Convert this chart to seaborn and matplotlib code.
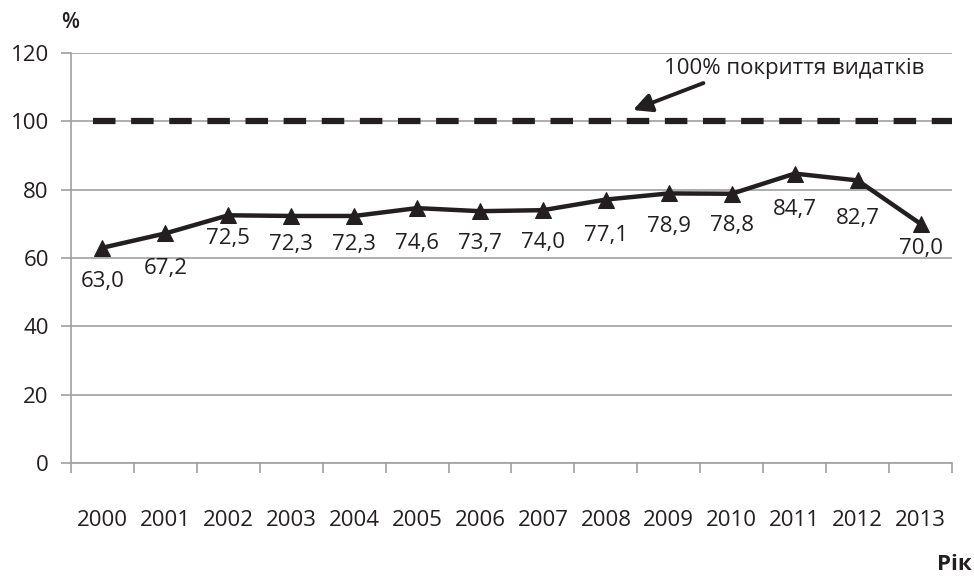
import matplotlib
matplotlib.use('Agg')
import matplotlib.pyplot as plt
import seaborn as sns
import numpy as np

years = ['2000', '2001', '2002', '2003', '2004', '2005', '2006',
         '2007', '2008', '2009', '2010', '2011', '2012', '2013']
coverage = [63.0, 67.2, 72.5, 72.3, 72.3, 74.6, 73.7,
            74.0, 77.1, 78.9, 78.8, 84.7, 82.7, 70.0]
full_coverage = 100
yticks = [0, 20, 40, 60, 80, 100, 120]

# how far below each point its label sits (points)
label_drop = [17, 18, 9, 13, 13, 18, 16, 16, 18, 16, 15, 18, 20, 10]

sns.set_style('white')
plt.rcParams['font.family'] = ['Open Sans', 'DejaVu Sans']
txt = '#231f20'
grid = '#a0a0a0'

fig = plt.figure(figsize=(9.74, 5.76), dpi=100)
ax = fig.add_axes([0.0729, 0.1962, 0.9045, 0.7118])

x = np.arange(len(years))
ax.axhline(full_coverage, xmin=0.025, xmax=1.0, color='#231f20', lw=4.5,
           dashes=(3.6, 2.5), zorder=3)
sns.lineplot(x=x, y=coverage, ax=ax, color='#231f20', lw=3.2, marker='^',
             markersize=11, markeredgecolor='#231f20', zorder=4)

for xi, v, d in zip(x, coverage, label_drop):
    ax.annotate(f'{v:.1f}'.replace('.', ','), (xi, v), xytext=(0, -d),
                textcoords='offset points', ha='center', va='top',
                fontsize=16, color=txt)

# label for the 100% line, with its arrow
ax.text(11.0, 115.6, '100% покриття видатків', fontsize=16, color=txt,
        ha='center', va='center')
ax.annotate('', xy=(8.43, 103.3), xytext=(9.55, 111.2),
            arrowprops=dict(arrowstyle='-|>', color='#231f20', lw=2.8,
                            mutation_scale=28, shrinkA=0, shrinkB=0))

ax.set_ylim(0, 120)
ax.set_xlim(-0.5, len(years) - 0.5)
ax.set_yticks(yticks)
ax.set_yticklabels([str(t) for t in yticks])
ax.yaxis.grid(True, color=grid, lw=1.2)
ax.set_axisbelow(True)

ax.set_xticks(np.arange(-0.5, len(years), 1))
ax.set_xticklabels([])
ax.set_xticks(x, minor=True)
ax.set_xticklabels(years, minor=True)
ax.tick_params(axis='x', which='major', direction='out', length=7,
               width=1.2, color=grid, bottom=True)
ax.tick_params(axis='x', which='minor', length=0, pad=34, labelsize=16,
               labelcolor=txt)
ax.tick_params(axis='y', direction='out', length=7, width=1.2, color=grid,
               pad=9, labelsize=16, labelcolor=txt, left=True)

for s in ['top', 'right']:
    ax.spines[s].set_visible(False)
for s in ['left', 'bottom']:
    ax.spines[s].set_color(grid)
    ax.spines[s].set_linewidth(1.2)

fig.text(70 / 974, 1 - 22 / 576, '%', fontsize=15, fontweight='semibold',
         color=txt, ha='center', va='center')
fig.text(972 / 974, 1 - 564 / 576, 'Рік', fontsize=16, fontweight='bold',
         color=txt, ha='right', va='center')

fig.savefig('out.png', dpi=100)
